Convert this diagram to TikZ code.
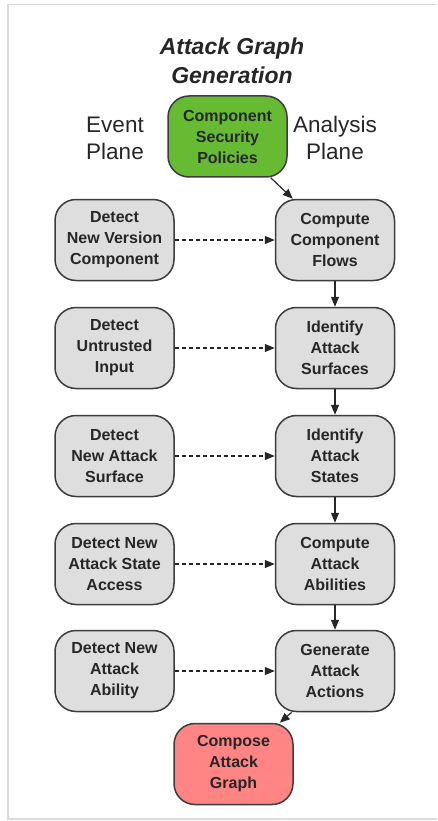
\documentclass[tikz,border=0pt]{standalone}
\usepackage{fontspec}
\setmainfont{Liberation Sans}
\usetikzlibrary{arrows.meta}
\definecolor{boxgray}{HTML}{DEDEDE}
\definecolor{boxgreen}{HTML}{66BB33}
\definecolor{boxred}{HTML}{FF8585}
\definecolor{linegray}{HTML}{3C3C3C}
\definecolor{framegray}{HTML}{DADADA}
\tikzset{
  stepbox/.style={draw=linegray, line width=1.5pt, rounded corners=21pt,
    fill=boxgray, minimum width=119pt, minimum height=81pt, inner sep=0pt,
    align=center, text=black!85,
    font=\fontsize{16pt}{21pt}\selectfont\bfseries},
  flow/.style={-{Triangle[length=10pt,width=8pt]}, line width=1.2pt, draw=black!85},
  evt/.style={-{Triangle[length=10pt,width=8pt]}, line width=1.2pt, draw=black!85,
    dash pattern=on 4pt off 3pt},
  planelabel/.style={align=center, text=black!85,
    font=\fontsize{22.5pt}{27pt}\selectfont},
}
\begin{document}
\begin{tikzpicture}[x=1pt,y=-1pt]
\useasboundingbox (0,0) rectangle (437,821);
% frame
\draw[framegray, line width=1.5pt] (437,4.5) coordinate (f1) -- (8,4.5) coordinate (f2) -- (8,819) coordinate (f3) -- (437,819) coordinate (f4);
% title and plane labels
\node[align=center, text=black!85, font=\fontsize{23pt}{29pt}\selectfont\bfseries\itshape] (title) at (232,61) {Attack Graph\\Generation};
\node[planelabel] (event) at (115,138) {Event\\Plane};
\node[planelabel] (analysis) at (335,138) {Analysis\\Plane};
% nodes
\node[stepbox, fill=boxgreen] (policies) at (227.5,136.5) {Component\\Security\\Policies};
\node[stepbox] (d1) at (114.5,240) {Detect\\New Version\\Component};
\node[stepbox] (a1) at (335,240) {Compute\\Component\\Flows};
\node[stepbox] (d2) at (114.5,348) {Detect\\Untrusted\\Input};
\node[stepbox] (a2) at (335,348) {Identify\\Attack\\Surfaces};
\node[stepbox] (d3) at (114.5,456) {Detect\\New Attack\\Surface};
\node[stepbox] (a3) at (335,456) {Identify\\Attack\\States};
\node[stepbox] (d4) at (114.5,564) {Detect New\\Attack State\\Access};
\node[stepbox] (a4) at (335,564) {Compute\\Attack\\Abilities};
\node[stepbox] (d5) at (114.5,671) {Detect New\\Attack\\Ability};
\node[stepbox] (a5) at (335,671) {Generate\\Attack\\Actions};
\node[stepbox, fill=boxred] (compose) at (233.5,764) {Compose\\Attack\\Graph};
% connectors
\draw[flow] ([xshift=-17pt]policies.south east) -- ([xshift=18pt]a1.north west);
\draw[flow] (a1) -- (a2);
\draw[flow] (a2) -- (a3);
\draw[flow] (a3) -- (a4);
\draw[flow] (a4) -- (a5);
\draw[flow] ([xshift=17pt]a5.south west) -- ([xshift=-14pt]compose.north east);
\draw[evt] (d1) -- (a1);
\draw[evt] (d2) -- (a2);
\draw[evt] (d3) -- (a3);
\draw[evt] (d4) -- (a4);
\draw[evt] (d5) -- (a5);
\end{tikzpicture}
\end{document}
